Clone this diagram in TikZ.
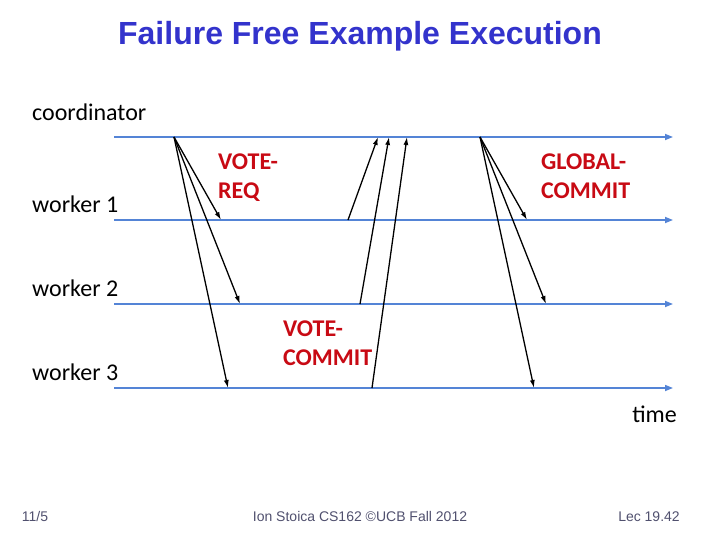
\documentclass[tikz,border=0pt]{standalone}
\usepackage{fontspec}
\setmainfont{Carlito}
\newfontfamily\arialfont{Liberation Sans}
\usetikzlibrary{arrows.meta}

\definecolor{lineblue}{RGB}{84,132,214}
\definecolor{titleblue}{RGB}{51,51,204}
\definecolor{msgred}{RGB}{200,10,20}
\definecolor{footgray}{RGB}{80,80,110}

\tikzset{
    timeline/.style = {draw=lineblue, line width=1.6pt, -{Triangle[length=8pt, width=6pt]}},
    msg/.style      = {draw=black, line width=1.3pt, -{Latex[length=8pt, width=5pt]}},
    proc/.style     = {anchor=base west, inner sep=0pt, font=\fontsize{24}{28}\selectfont},
    msglabel/.style = {anchor=north west, inner sep=0pt, align=left, text=msgred,
                       font=\bfseries\fontsize{24}{29}\selectfont},
    foot/.style     = {anchor=base, inner sep=0pt, text=footgray, font=\arialfont\fontsize{14}{16}\selectfont}
}

\begin{document}
\begin{tikzpicture}[x=1pt, y=-1pt]
                \useasboundingbox (0,0) rectangle (720,540);

                \node[anchor=base, font=\arialfont\bfseries\fontsize{32}{36}\selectfont, text=titleblue] (title) at (360,45) {Failure Free Example Execution};

                % processes
                \draw
                    ( 32, 121) node[proc](coord){coordinator}
                    ( 32, 212) node[proc](wone){worker 1}
                    ( 32, 296) node[proc](wtwo){worker 2}
                    ( 32, 380) node[proc](wthree){worker 3}
                    (677, 422) node[proc, anchor=base east](time){time}
                ;

                % time lines
                \coordinate (c-start) at (114,137);  \coordinate (c-end) at (673,137);
                \coordinate (a-start) at (114,220);  \coordinate (a-end) at (673,220);
                \coordinate (b-start) at (114,304);  \coordinate (b-end) at (673,304);
                \coordinate (d-start) at (114,388);  \coordinate (d-end) at (673,388);
                \draw [timeline] (c-start) -- (c-end);
                \draw [timeline] (a-start) -- (a-end);
                \draw [timeline] (b-start) -- (b-end);
                \draw [timeline] (d-start) -- (d-end);

                % message end points
                \coordinate (req)   at (174,137);
                \coordinate (req-a) at (221,220);
                \coordinate (req-b) at (240,304);
                \coordinate (req-d) at (228,388);
                \coordinate (vc-a)  at (348,220);  \coordinate (vc-a-in) at (378,137);
                \coordinate (vc-b)  at (360,304);  \coordinate (vc-b-in) at (389,137);
                \coordinate (vc-d)  at (372,388);  \coordinate (vc-d-in) at (407,137);
                \coordinate (glob)   at (480,137);
                \coordinate (glob-a) at (527,220);
                \coordinate (glob-b) at (546,304);
                \coordinate (glob-d) at (534,388);

                \draw [msg] (req)  -- (req-a);
                \draw [msg] (req)  -- (req-b);
                \draw [msg] (req)  -- (req-d);
                \draw [msg] (vc-a) -- (vc-a-in);
                \draw [msg] (vc-b) -- (vc-b-in);
                \draw [msg] (vc-d) -- (vc-d-in);
                \draw [msg] (glob) -- (glob-a);
                \draw [msg] (glob) -- (glob-b);
                \draw [msg] (glob) -- (glob-d);

                \node[msglabel] (reqlabel)  at (218,154) {VOTE-\\REQ};
                \node[msglabel] (vclabel)   at (283,321) {VOTE-\\COMMIT};
                \node[msglabel] (globlabel) at (541,154) {GLOBAL-\\COMMIT};

                % footer
                \node[foot] (date)   at ( 35,521) {11/5};
                \node[foot] (author) at (360,521) {Ion Stoica CS162 ©UCB Fall 2012};
                \node[foot] (lec)    at (649,521) {Lec 19.42};
\end{tikzpicture}
\end{document}
